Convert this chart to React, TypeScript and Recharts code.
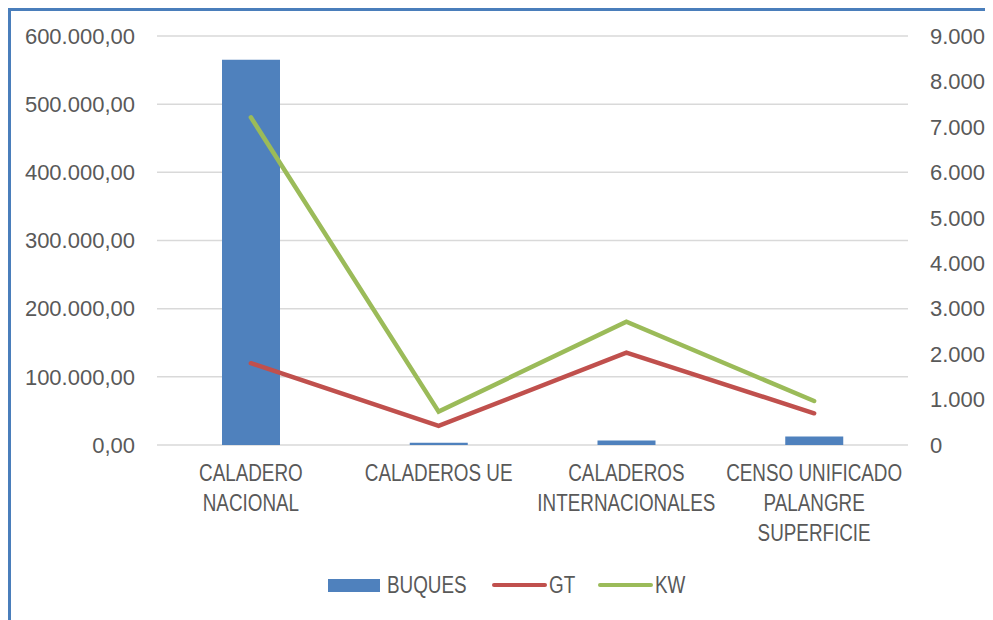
import React from 'react';
import { ComposedChart, Bar, Line, XAxis, YAxis, CartesianGrid, Legend } from 'recharts';

const categories = ['CALADERO NACIONAL', 'CALADEROS UE', 'CALADEROS INTERNACIONALES', 'CENSO UNIFICADO PALANGRE SUPERFICIE'];
const categoryLines = [
  ['CALADERO', 'NACIONAL'],
  ['CALADEROS UE'],
  ['CALADEROS', 'INTERNACIONALES'],
  ['CENSO UNIFICADO', 'PALANGRE', 'SUPERFICIE'],
];
const buques = [8480, 50, 100, 185];
const gt = [120000, 28000, 135500, 46500];
const kw = [480700, 49000, 181000, 64500];
const leftTicks = [0, 100000, 200000, 300000, 400000, 500000, 600000];
const rightTicks = [0, 1000, 2000, 3000, 4000, 5000, 6000, 7000, 8000, 9000];

const data = categories.map((c, i) => ({ name: c, BUQUES: buques[i], GT: gt[i], KW: kw[i] }));

const group = (n: number) => {
  const s = Math.round(n).toString();
  return s.replace(/\B(?=(\d{3})+(?!\d))/g, '.');
};
const fmtLeft = (v: number) => group(Math.floor(v)) + ',00';
const fmtRight = (v: number) => group(v);

const TEXT = '#595959';
const NUM_FONT = "'Liberation Sans', Arial, sans-serif";
const CAT_FONT = "'Liberation Sans', Arial, sans-serif";
const SQUEEZE = 0.82;

const CategoryTick = (props: any) => {
  const { x, y, payload } = props;
  const idx = categories.indexOf(payload.value);
  const lines = categoryLines[idx] || [payload.value];
  return (
    <g transform={`translate(${x},${y}) scale(${SQUEEZE},1)`}>
      <text x={0} y={0} textAnchor="middle" fill={TEXT} fontSize={23} fontFamily={CAT_FONT}>
        {lines.map((l, i) => (
          <tspan key={i} x={0} y={36 + i * 30}>{l}</tspan>
        ))}
      </text>
    </g>
  );
};

const legendLayout: Record<string, { gap: number; text: number; after: number }> = {
  BUQUES: { gap: 7, text: 80, after: 25 },
  GT: { gap: 2, text: 29, after: 20 },
  KW: { gap: 2, text: 36, after: 0 },
};

const LegendContent = (props: any) => {
  const { payload } = props;
  return (
    <div style={{ display: 'flex', alignItems: 'center', height: 40, fontFamily: CAT_FONT, fontSize: 23, color: TEXT }}>
      {(payload || []).map((p: any, i: number) => {
        const lay = legendLayout[p.value] || { gap: 4, text: 60, after: 20 };
        return (
          <div key={i} style={{ display: 'flex', alignItems: 'center', marginRight: lay.after }}>
            {p.value === 'BUQUES' ? (
              <div style={{ width: 52, height: 13, background: p.color }} />
            ) : (
              <div style={{ width: 55, height: 4.5, background: p.color, borderRadius: 2 }} />
            )}
            <div style={{ marginLeft: lay.gap, width: lay.text, overflow: 'visible', whiteSpace: 'nowrap' }}>
              <span style={{ display: 'inline-block', transform: `scaleX(${SQUEEZE})`, transformOrigin: 'left center' }}>{p.value}</span>
            </div>
          </div>
        );
      })}
    </div>
  );
};

export default function App() {
  return (
    <div style={{ position: 'relative', width: 985, height: 612 }}>
      <div style={{ position: 'absolute', left: 0, top: 0, width: 3, height: 612, background: '#4a7ebb' }} />
      <div style={{ position: 'absolute', left: 0, top: 0, width: 985, height: 3, background: '#4a7ebb' }} />
      <div style={{ position: 'absolute', left: 0, top: 0 }}>
        <ComposedChart width={985} height={612} data={data} margin={{ top: 28, right: 0, bottom: 0, left: 0 }}>
          <CartesianGrid yAxisId="left" vertical={false} stroke="#d9d9d9" strokeWidth={1.5} />
          <XAxis dataKey="name" axisLine={false} tickLine={false} tickSize={0} tickMargin={0} height={135} interval={0} tick={<CategoryTick />} />
          <YAxis yAxisId="left" orientation="left" width={149} domain={[0, 600000]} ticks={leftTicks} tickFormatter={fmtLeft}
            axisLine={false} tickLine={false} tickSize={0} tickMargin={22}
            tick={{ fill: TEXT, fontSize: 22, fontFamily: NUM_FONT }} />
          <YAxis yAxisId="right" orientation="right" width={85} domain={[0, 9000]} ticks={rightTicks} tickFormatter={fmtRight}
            axisLine={false} tickLine={false} tickSize={0} tickMargin={22}
            tick={{ fill: TEXT, fontSize: 22, fontFamily: NUM_FONT, textAnchor: 'start' }} />
          <Bar yAxisId="right" dataKey="BUQUES" fill="#4f81bd" barSize={58} isAnimationActive={false} legendType="rect" />
          <Line yAxisId="left" type="linear" dataKey="GT" stroke="#c0504d" strokeWidth={4.5} dot={false} strokeLinecap="round" isAnimationActive={false} legendType="line" />
          <Line yAxisId="left" type="linear" dataKey="KW" stroke="#9bbb59" strokeWidth={4.5} dot={false} strokeLinecap="round" isAnimationActive={false} legendType="line" />
          <Legend verticalAlign="bottom" content={<LegendContent />}
            wrapperStyle={{ left: 320, top: 557, bottom: 'auto', width: 420, height: 40 }} />
        </ComposedChart>
      </div>
    </div>
  );
}
